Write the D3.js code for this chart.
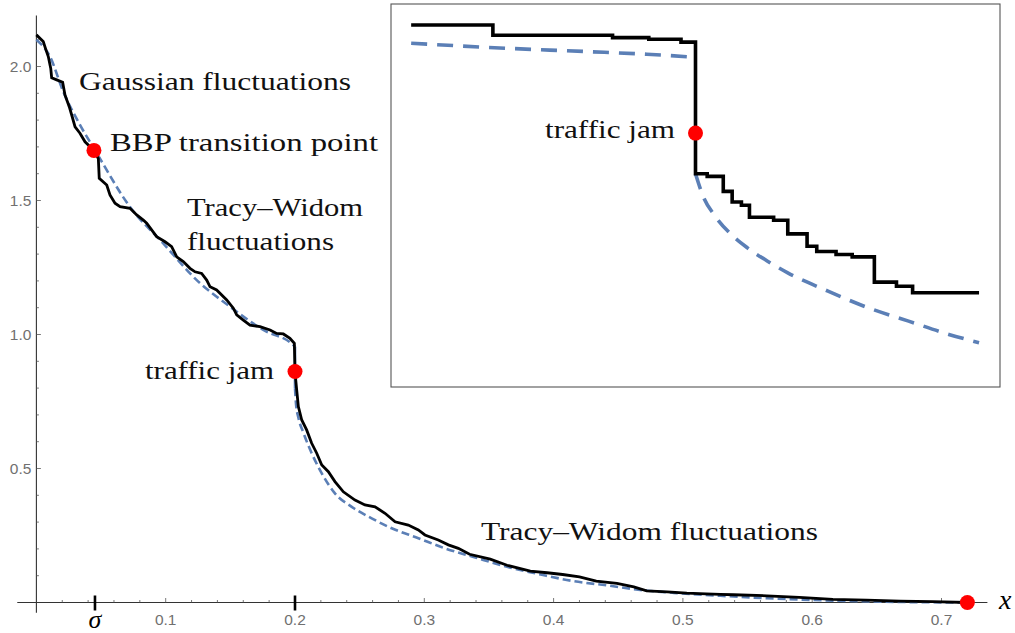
<!DOCTYPE html>
<html><head><meta charset="utf-8">
<script src="https://cdn.jsdelivr.net/npm/d3@7"></script>
<style>html,body{margin:0;padding:0;background:#fff;}svg{display:block;}</style>
</head><body>
<svg id="chart" width="1015" height="633"></svg>
<script>
// ---------- data ----------
const xTickValues = [0.1, 0.2, 0.3, 0.4, 0.5, 0.6, 0.7];
const xTickLabels = ["0.1", "0.2", "0.3", "0.4", "0.5", "0.6", "0.7"];
const yTickValues = [0.5, 1.0, 1.5, 2.0];
const yTickLabels = ["0.5", "1.0", "1.5", "2.0"];
const sigma = 0.0453;
const jamX = 0.2;

// empirical staircase (main)
const mainStairs = [[0.0000,2.118],[0.0053,2.093],[0.0074,2.062],[0.0092,2.037],[0.0111,1.993],[0.0118,1.958],[0.0157,1.950],[0.0203,1.941],[0.0221,1.894],[0.0254,1.850],[0.0273,1.819],[0.0299,1.775],[0.0337,1.751],[0.0376,1.719],[0.0415,1.701],[0.0445,1.685],[0.0479,1.657],[0.0486,1.583],[0.0544,1.558],[0.0569,1.521],[0.0608,1.490],[0.0647,1.477],[0.0724,1.471],[0.0776,1.446],[0.0827,1.427],[0.0853,1.415],[0.0930,1.365],[0.0995,1.346],[0.1046,1.328],[0.1085,1.290],[0.1136,1.272],[0.1188,1.247],[0.1227,1.234],[0.1278,1.228],[0.1317,1.203],[0.1343,1.178],[0.1394,1.166],[0.1472,1.129],[0.1523,1.098],[0.1549,1.073],[0.1600,1.054],[0.1652,1.035],[0.1729,1.029],[0.1807,1.017],[0.1858,1.004],[0.1910,1.002],[0.1961,0.986],[0.1995,0.967],[0.2000,0.860],[0.2013,0.793],[0.2026,0.731],[0.2052,0.681],[0.2090,0.644],[0.2129,0.594],[0.2168,0.557],[0.2207,0.513],[0.2258,0.488],[0.2309,0.451],[0.2374,0.413],[0.2464,0.382],[0.2541,0.364],[0.2619,0.357],[0.2696,0.333],[0.2774,0.301],[0.2876,0.289],[0.2954,0.271],[0.3005,0.252],[0.3108,0.233],[0.3186,0.215],[0.3263,0.202],[0.3350,0.180],[0.3510,0.162],[0.3640,0.139],[0.3820,0.117],[0.3950,0.111],[0.4070,0.1045],[0.4200,0.096],[0.4330,0.080],[0.4490,0.071],[0.4620,0.0585],[0.4720,0.0435],[0.4880,0.040],[0.5030,0.035],[0.5180,0.032],[0.5290,0.030],[0.5390,0.029],[0.5650,0.025],[0.5900,0.019],[0.6160,0.012],[0.6420,0.009],[0.6680,0.005],[0.6930,0.003],[0.7200,0.000]];

// theoretical curve (main), left and right of the jam
const theoryLeft = [[0,2.100],[0.0105,2.037],[0.0208,1.906],[0.0337,1.782],[0.0453,1.688],[0.0724,1.476],[0.0981,1.340],[0.1240,1.203],[0.1497,1.104],[0.1755,1.017],[0.1987,0.961],[0.2000,0.955]];
const theoryRight = [[0.2000,0.800],[0.2008,0.740],[0.2026,0.690],[0.2064,0.635],[0.2129,0.557],[0.2207,0.482],[0.2309,0.407],[0.2439,0.357],[0.2593,0.314],[0.2748,0.277],[0.2954,0.240],[0.3160,0.202],[0.3380,0.170],[0.3640,0.133],[0.3900,0.1045],[0.4150,0.080],[0.4410,0.064],[0.4670,0.047],[0.4930,0.036],[0.5290,0.025],[0.5650,0.016],[0.6160,0.007],[0.6680,0.002],[0.7200,0.000]];

// marked points (main)
const mainDots = [[0.0445,1.687],[0.2000,0.862],[0.7200,0.000]];

// inset (magnified view of the jam, in inset units 0..100)
const insetStairs = [[3.31,94.53],[16.73,91.83],[36.38,91.23],[42.33,90.79],[47.62,90.05],[50.0,55.69],[51.92,54.99],[54.56,51.09],[56.02,48.31],[57.54,47.44],[58.86,44.31],[62.83,43.53],[65.15,39.97],[68.32,36.75],[69.91,35.36],[73.08,34.58],[75.73,33.97],[79.37,27.37],[83.0,26.32],[85.65,24.59],[96.56,24.59]];
const insetTheoryLeft = [[3.31,89.75],[18.85,88.45],[32.08,87.58],[42.0,86.88],[50.0,86.1]];
const insetTheoryRight = [[50.0,55.69],[51.26,49.78],[53.24,44.57],[55.89,39.79],[58.53,36.32],[61.84,32.84],[65.15,29.8],[71.76,25.02],[78.37,20.68],[84.99,17.2],[91.6,13.73],[96.56,11.56]];
const insetDot = [[50.0,66.29]];

// ---------- drawing ----------
const svg = d3.select("#chart");
const BLUE = "#5b7fb6";

const x = d3.scaleLinear().domain([0, 0.72]).range([36.4, 36.4 + 0.72 * 1293]);
const y = d3.scaleLinear().domain([0, 2]).range([602.5, 602.5 - 2 * 268]);

const axisColor = "#333";
svg.append("line").attr("x1", x(-0.0148)).attr("x2", x(0.7355))
  .attr("y1", y(0)).attr("y2", y(0)).attr("stroke", axisColor).attr("stroke-width", 1.1);
svg.append("line").attr("x1", x(0)).attr("x2", x(0))
  .attr("y1", y(-0.038)).attr("y2", y(2.19)).attr("stroke", axisColor).attr("stroke-width", 1.1);

// x ticks: minor every 0.02, major at 0.1 multiples
const xMinor = d3.range(1, 37).map(i => i * 0.02);
svg.append("g").selectAll("line").data(xMinor).join("line")
  .attr("x1", d => x(d)).attr("x2", d => x(d))
  .attr("y1", y(0)).attr("y2", d => y(0) - (Math.abs(d * 10 - Math.round(d * 10)) < 1e-6 ? 4.5 : 2.5))
  .attr("stroke", "#555").attr("stroke-width", 0.8);

const tickFont = "'Liberation Sans', Arial, sans-serif";
svg.append("g").selectAll("text").data(xTickValues).join("text")
  .attr("x", d => x(d)).attr("y", y(0) + 22)
  .attr("text-anchor", "middle").attr("font-family", tickFont)
  .attr("font-size", 15.5).attr("fill", "#707070")
  .text((d, i) => xTickLabels[i]);

// y ticks: minor every 0.1, major every 0.5
const yMinor = d3.range(1, 22).map(i => i * 0.1);
svg.append("g").selectAll("line").data(yMinor).join("line")
  .attr("x1", x(0)).attr("x2", d => x(0) + (Math.abs(d * 2 - Math.round(d * 2)) < 1e-6 ? 4.5 : 2.5))
  .attr("y1", d => y(d)).attr("y2", d => y(d))
  .attr("stroke", "#555").attr("stroke-width", 0.8);

svg.append("g").selectAll("text").data(yTickValues).join("text")
  .attr("x", x(0) - 5).attr("y", d => y(d) + 5.5)
  .attr("text-anchor", "end").attr("font-family", tickFont)
  .attr("font-size", 15.5).attr("fill", "#707070")
  .text((d, i) => yTickLabels[i]);

// heavy ticks at sigma and jam
svg.append("g").selectAll("line").data([sigma, jamX]).join("line")
  .attr("x1", d => x(d)).attr("x2", d => x(d))
  .attr("y1", y(0) - 7).attr("y2", y(0) + 8)
  .attr("stroke", "#000").attr("stroke-width", 2.6);

// sigma label
svg.append("text").attr("x", x(sigma)).attr("y", 628)
  .attr("text-anchor", "middle").attr("font-family", "Liberation Serif, serif")
  .attr("font-style", "italic").attr("font-size", 26).text("σ");
// x axis label
svg.append("text").attr("x", 999).attr("y", 609)
  .attr("font-family", "Liberation Serif, serif")
  .attr("font-style", "italic").attr("font-size", 28).text("x");

// theory curves (main)
const thLine = d3.line().x(d => x(d[0])).y(d => y(d[1])).curve(d3.curveMonotoneX);
[theoryLeft, theoryRight].forEach(arr => {
  svg.append("path").attr("d", thLine(arr)).attr("fill", "none")
    .attr("stroke", BLUE).attr("stroke-width", 2.6).attr("stroke-dasharray", "8,4");
});
svg.append("line")
  .attr("x1", x(theoryLeft[theoryLeft.length - 1][0])).attr("y1", y(theoryLeft[theoryLeft.length - 1][1]))
  .attr("x2", x(theoryRight[0][0])).attr("y2", y(theoryRight[0][1]))
  .attr("stroke", BLUE).attr("stroke-width", 2.6);

// empirical curve (main)
const stairLine = d3.line().x(d => x(d[0])).y(d => y(d[1])).curve(d3.curveLinear);
svg.append("path").attr("d", stairLine(mainStairs)).attr("fill", "none")
  .attr("stroke", "#000").attr("stroke-width", 2.8).attr("stroke-linejoin", "miter");

// dots (main)
svg.append("g").selectAll("circle").data(mainDots).join("circle")
  .attr("cx", d => x(d[0])).attr("cy", d => y(d[1])).attr("r", 7.5).attr("fill", "#ff0000");

// annotations (main)
const serif = "Liberation Serif, 'Times New Roman', serif";
const notes = [
  {t: "Gaussian fluctuations", x: 79, y: 90, w: 272},
  {t: "BBP transition point", x: 110, y: 151, w: 268},
  {t: "Tracy–Widom", x: 187, y: 216, w: 176},
  {t: "fluctuations", x: 187, y: 250, w: 147},
  {t: "traffic jam", x: 145, y: 379, w: 129},
  {t: "Tracy–Widom fluctuations", x: 481, y: 540, w: 337}
];
svg.append("g").selectAll("text").data(notes).join("text")
  .attr("x", d => d.x).attr("y", d => d.y)
  .attr("font-family", serif).attr("font-size", 25).attr("fill", "#111")
  .attr("textLength", d => d.w).attr("lengthAdjust", "spacingAndGlyphs")
  .text(d => d.t);

// ---------- inset ----------
const ix = d3.scaleLinear().domain([0, 100]).range([391, 1000]);
const iy = d3.scaleLinear().domain([0, 100]).range([387, 4]);
const inset = svg.append("g");
inset.append("rect").attr("x", ix(0)).attr("y", iy(100))
  .attr("width", ix(100) - ix(0)).attr("height", iy(0) - iy(100))
  .attr("fill", "#fff").attr("stroke", "#555").attr("stroke-width", 1.1);

const iTh = d3.line().x(d => ix(d[0])).y(d => iy(d[1])).curve(d3.curveMonotoneX);
[insetTheoryLeft, insetTheoryRight].forEach(arr => {
  inset.append("path").attr("d", iTh(arr)).attr("fill", "none")
    .attr("stroke", BLUE).attr("stroke-width", 3.6).attr("stroke-dasharray", "16,10");
});
const iStair = d3.line().x(d => ix(d[0])).y(d => iy(d[1])).curve(d3.curveStepAfter);
inset.append("path").attr("d", iStair(insetStairs)).attr("fill", "none")
  .attr("stroke", "#000").attr("stroke-width", 3.6);
inset.selectAll("circle").data(insetDot).join("circle")
  .attr("cx", d => ix(d[0])).attr("cy", d => iy(d[1])).attr("r", 7.5).attr("fill", "#ff0000");
inset.append("text").attr("x", 545).attr("y", 138)
  .attr("font-family", serif).attr("font-size", 25).attr("fill", "#111")
  .attr("textLength", 130).attr("lengthAdjust", "spacingAndGlyphs").text("traffic jam");
</script>
</body></html>
